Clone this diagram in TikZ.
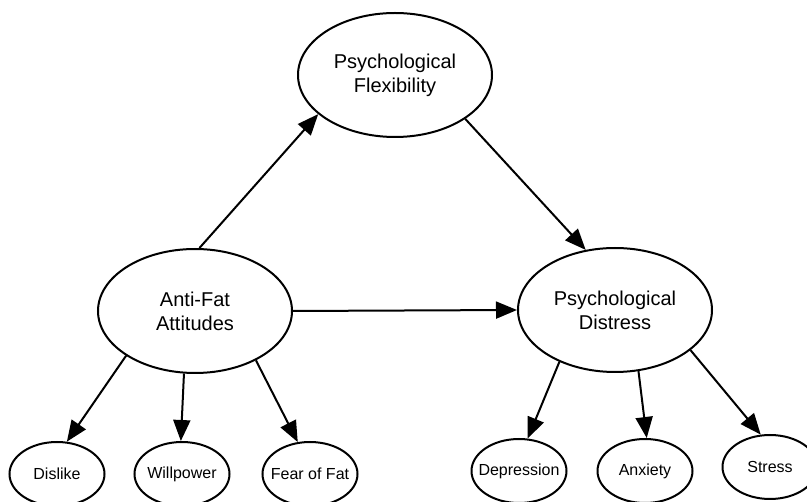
\documentclass[tikz,border=0pt]{standalone}
\usepackage{fontspec}
\setmainfont{Liberation Sans}
\usetikzlibrary{shapes.geometric,arrows.meta}
\newcommand{\zwbox}[1]{\makebox[0pt]{#1}}
\begin{document}
\begin{tikzpicture}[x=1pt,y=-1pt,
  big/.style={ellipse,draw,line width=2pt,inner sep=0pt,minimum width=194pt,minimum height=124pt,align=center,font=\fontsize{20}{24}\selectfont},
  small/.style={ellipse,draw,line width=2pt,inner sep=0pt,minimum width=95pt,minimum height=64pt,font=\fontsize{16}{19}\selectfont},
  arr/.style={line width=2pt,-{Triangle[length=21pt,width=17pt]}}]
\useasboundingbox[fill=white] (0,0) rectangle (807,502);
\node[big] (flex) at (395,75) {Psychological\\Flexibility};
\node[big] (anti) at (195,311) {Anti-Fat\\Attitudes};
\node[big] (dist) at (615,310) {Psychological\\Distress};
\node[small] (dislike) at (57,474) {\zwbox{Dislike}};
\node[small] (will) at (182,474) {\zwbox{Willpower}};
\node[small] (fear) at (310,474) {\zwbox{Fear of Fat}};
\node[small] (dep) at (519,471) {\zwbox{Depression}};
\node[small] (anx) at (645,471) {\zwbox{Anxiety}};
\node[small] (stress) at (770,467) {\zwbox{Stress}};
\draw[arr] (anti.86) -- (flex.207);
\draw[arr] (flex.-32) -- (dist.116);
\draw[arr] (anti.east) -- (dist.west);
\draw[arr] (anti.213) -- (dislike.73);
\draw[arr] (anti.260) -- (will.92);
\draw[arr] (anti.-39) -- (fear.111);
\draw[arr] (dist.223) -- (dep.75);
\draw[arr] (dist.-69) -- (anx.87);
\draw[arr] (dist.-28) -- (stress.106);
\end{tikzpicture}
\end{document}
